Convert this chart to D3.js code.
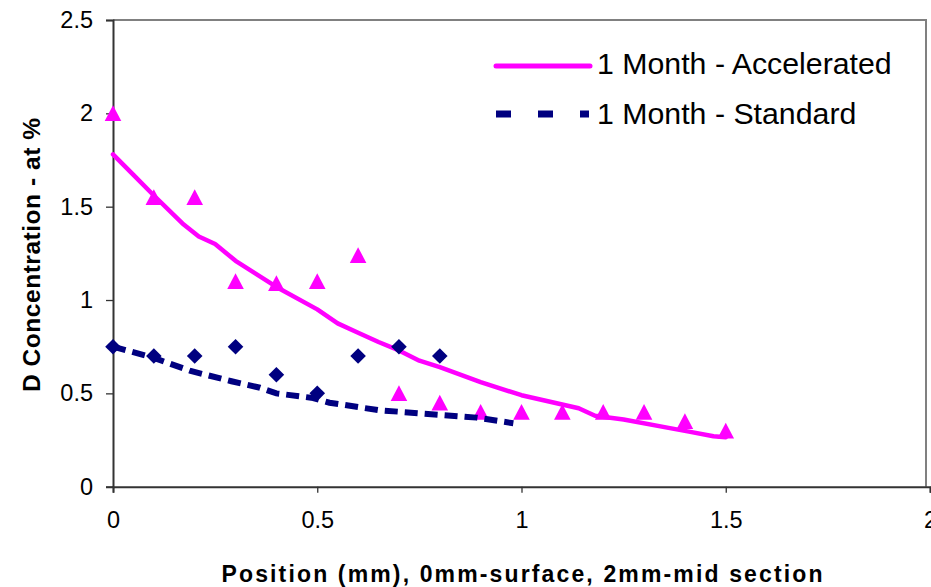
<!DOCTYPE html>
<html>
<head>
<meta charset="utf-8">
<script src="https://cdn.jsdelivr.net/npm/d3@7"></script>
<style>
  html, body { margin: 0; padding: 0; background: #fff; }
  svg { display: block; font-family: "Liberation Sans", Arial, sans-serif; }
</style>
</head>
<body>
<svg id="chart" width="931" height="587"></svg>
<script>
// ---- data ----
const accelX = [0, 0.1, 0.2, 0.3, 0.4, 0.5, 0.6, 0.7, 0.8, 0.9, 1.0, 1.1, 1.2, 1.3, 1.4, 1.5];
const accelY = [2.0, 1.55, 1.55, 1.1, 1.09, 1.1, 1.24, 0.5, 0.45, 0.4, 0.4, 0.4, 0.4, 0.4, 0.35, 0.3];
const stdX = [0, 0.1, 0.2, 0.3, 0.4, 0.5, 0.6, 0.7, 0.8];
const stdY = [0.75, 0.7, 0.7, 0.75, 0.6, 0.5, 0.7, 0.75, 0.7];
// trend lines (as drawn)
const accelLineX = [0, 0.05, 0.1, 0.17, 0.21, 0.25, 0.3, 0.4, 0.5, 0.55, 0.6, 0.65, 0.7, 0.75, 0.8, 0.9, 1.0, 1.14, 1.18, 1.25, 1.36, 1.41, 1.47, 1.5];
const accelLineY = [1.78, 1.67, 1.56, 1.41, 1.34, 1.30, 1.21, 1.07, 0.95, 0.875, 0.825, 0.775, 0.73, 0.675, 0.64, 0.56, 0.49, 0.42, 0.38, 0.36, 0.315, 0.295, 0.27, 0.265];
const stdLineX = [0, 0.1, 0.19, 0.29, 0.36, 0.4, 0.49, 0.53, 0.65, 0.8, 0.89, 0.98];
const stdLineY = [0.75, 0.69, 0.62, 0.565, 0.53, 0.5, 0.475, 0.45, 0.41, 0.385, 0.37, 0.34];
const xTicks = [0, 0.5, 1, 1.5, 2];
const yTicks = [0, 0.5, 1, 1.5, 2, 2.5];
const seriesNames = ["1 Month - Accelerated", "1 Month - Standard"];
const xTitle = "Position (mm), 0mm-surface, 2mm-mid section";
const yTitle = "D Concentration - at %";

const MAGENTA = "#FF00FF", NAVY = "#000080";

const svg = d3.select("#chart");
const x = d3.scaleLinear().domain([0, 2]).range([113, 930]);
const y = d3.scaleLinear().domain([0, 2.5]).range([486.7, 20]);

// plot frame (top & right)
svg.append("path")
  .attr("d", `M${x(0)},${y(2.5)}H926V${y(0)}`)
  .attr("fill", "none").attr("stroke", "#808080").attr("stroke-width", 2);

// axes
const yAxis = d3.axisLeft(y).tickValues(yTicks).tickSize(7).tickPadding(13)
  .tickFormat(d3.format("~g"));
const gy = svg.append("g").attr("transform", `translate(${x(0)},0)`).call(yAxis);
const xAxis = d3.axisBottom(x).tickValues(xTicks).tickSize(6).tickPadding(19)
  .tickFormat(d3.format("~g"));
const gx = svg.append("g").attr("transform", `translate(0,${y(0)})`).call(xAxis);
[gx, gy].forEach(g => {
  g.select(".domain").attr("stroke", "#333").attr("stroke-width", 2);
  g.selectAll(".tick line").attr("stroke", "#333").attr("stroke-width", 1.3);
  g.selectAll(".tick text").attr("fill", "#000")
    .style("font-size", "23.5px").style("font-family", "'Liberation Sans', Arial, sans-serif");
});
gx.selectAll(".tick text").attr("dy", "0.71em");

// axis titles
svg.append("text")
  .attr("x", 522).attr("y", 582)
  .attr("text-anchor", "middle")
  .attr("textLength", 601).attr("lengthAdjust", "spacing")
  .style("font-size", "23px").style("font-weight", "bold")
  .text(xTitle);
svg.append("text")
  .attr("transform", "translate(40,255) rotate(-90)")
  .attr("text-anchor", "middle")
  .attr("textLength", 274).attr("lengthAdjust", "spacing")
  .style("font-size", "24.5px").style("font-weight", "bold")
  .text(yTitle);

const accelLine = accelLineX.map((v, i) => [v, accelLineY[i]]);
const stdLine = stdLineX.map((v, i) => [v, stdLineY[i]]);
const accelPts = accelX.map((v, i) => [v, accelY[i]]);
const stdPts = stdX.map((v, i) => [v, stdY[i]]);
const line = d3.line().x(d => x(d[0])).y(d => y(d[1]));

// accelerated series
svg.append("path").datum(accelLine).attr("d", line)
  .attr("fill", "none").attr("stroke", MAGENTA).attr("stroke-width", 4.5)
  .attr("stroke-linejoin", "round").attr("stroke-linecap", "round");
svg.append("g").selectAll("path").data(accelPts).join("path")
  .attr("transform", d => `translate(${x(d[0])},${y(d[1])})`)
  .attr("d", "M0,-8L8.3,7.7L-8.3,7.7Z")
  .attr("fill", MAGENTA);

// standard series
svg.append("path").datum(stdLine).attr("d", line)
  .attr("fill", "none").attr("stroke", NAVY).attr("stroke-width", 6)
  .attr("stroke-dasharray", "13,7");
svg.append("g").selectAll("path").data(stdPts).join("path")
  .attr("transform", d => `translate(${x(d[0])},${y(d[1])})`)
  .attr("d", "M0,-7.8L7.8,0L0,7.8L-7.8,0Z")
  .attr("fill", NAVY);

// legend
const legend = svg.append("g");
legend.append("line").attr("x1", 496).attr("x2", 590).attr("y1", 66).attr("y2", 66)
  .attr("stroke", MAGENTA).attr("stroke-width", 5).attr("stroke-linecap", "round");
legend.append("line").attr("x1", 496).attr("x2", 589).attr("y1", 114).attr("y2", 114)
  .attr("stroke", NAVY).attr("stroke-width", 7).attr("stroke-dasharray", "15,27");
legend.selectAll("text").data(seriesNames).join("text")
  .attr("x", 597).attr("y", (d, i) => 73.5 + i * 50.5)
  .style("font-size", "30.3px").attr("fill", "#000")
  .text(d => d);
</script>
</body>
</html>
